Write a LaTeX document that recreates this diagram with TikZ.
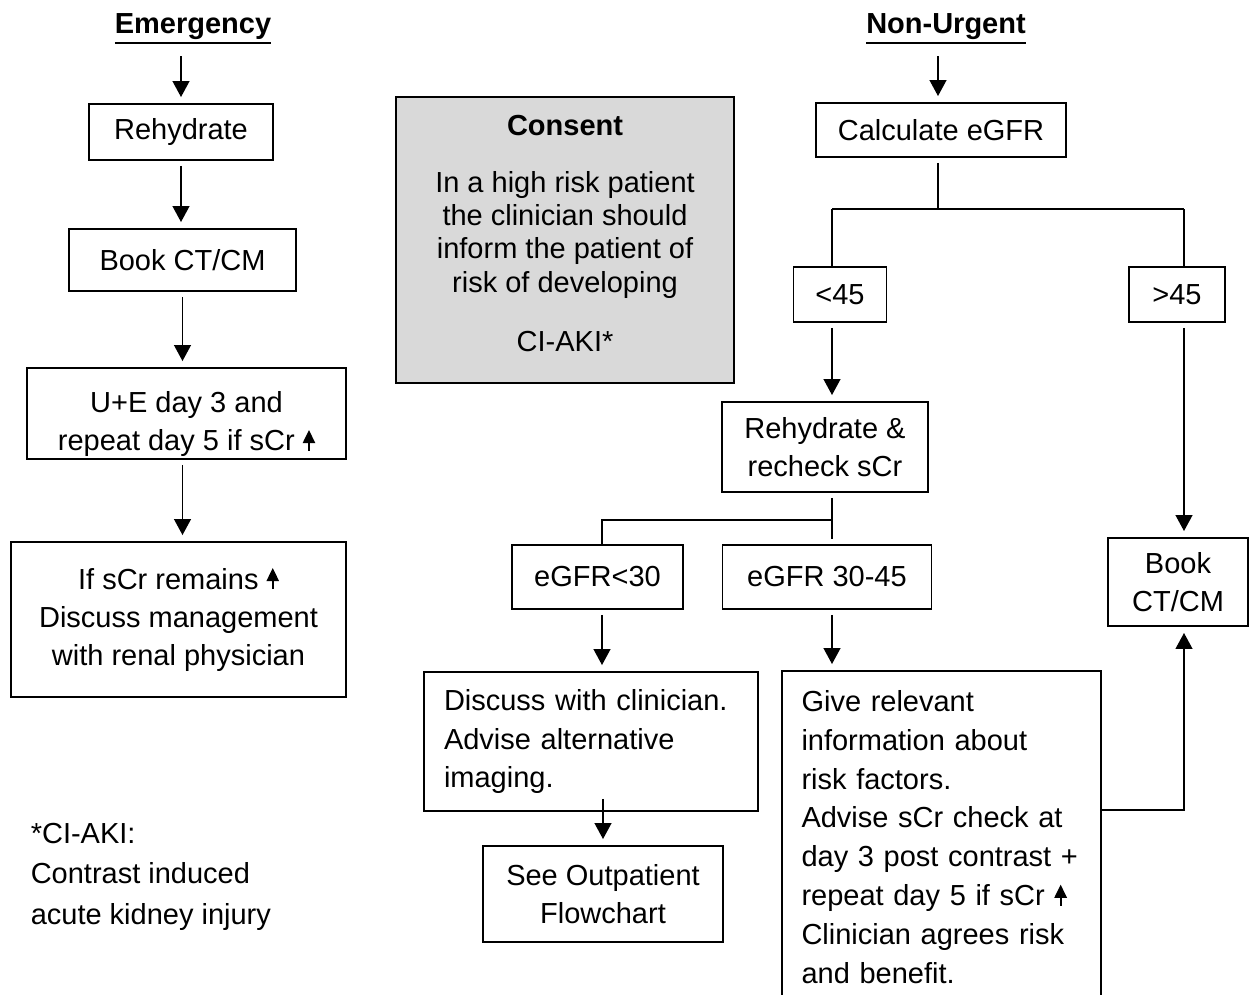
\documentclass[tikz,border=0pt]{standalone}
\usepackage{fontspec}
\setmainfont{Liberation Sans}
\usetikzlibrary{arrows.meta}

\definecolor{consentgrey}{RGB}{217,217,217}

% small "rising" arrow used inside the texts
\newcommand{\scrup}{\tikz[baseline=0pt]\draw[line width=1.1pt,-{Triangle[width=7pt,length=7.5pt]}] (0,0) -- (0,0.42cm);}
% bold underlined column heading
\newcommand{\heading}[1]{\vtop{\hbox{\bfseries #1}\kern1pt\hrule height 1.6pt}}

\tikzset{
	box/.style={draw,line width=1.1pt,align=center,inner sep=0pt},
	lbox/.style={box,align=left,inner xsep=0.4cm},
	arr/.style={->,shorten <=0.1cm,shorten >=0.12cm},
	ln/.style={-,shorten <=0.1cm}
}

\begin{document}
\begin{tikzpicture}[node font=\fontsize{16.5}{21.9}\selectfont,>={Triangle[width=9.5pt,length=9pt]},line width=0.9pt]
	\useasboundingbox (0,0) rectangle (25.08,-19.88);
	\clip (0,0) rectangle (25.08,-19.88);

	% headings
	\node[inner sep=0.12cm] (et) at (3.86,-0.58) {\heading{Emergency}};
	\node[inner sep=0.12cm] (nt) at (18.92,-0.58) {\heading{Non-Urgent}};

	% emergency column
	\node[box,minimum width=3.68cm,minimum height=1.12cm] (e1) at (3.62,-2.64) {Rehydrate};
	\node[box,minimum width=4.54cm,minimum height=1.24cm] (e2) at (3.65,-5.2) {Book CT/CM};
	\node[box,minimum width=6.38cm,minimum height=1.82cm] (e3) at (3.73,-8.27) {\rule{0pt}{0.85cm}U+E day 3 and\\repeat day 5 if sCr \scrup};
	\node[box,minimum width=6.7cm,minimum height=3.1cm] (e4) at (3.57,-12.39) {If sCr remains \scrup\\Discuss management\\with renal physician};

	% consent
	\node[box,fill=consentgrey,minimum width=6.76cm,minimum height=5.72cm,font=\fontsize{16.5}{19}\selectfont] (cons) at (11.3,-4.8)
		{\textbf{Consent}\\[0.47cm]In a high risk patient\\the clinician should\\inform the patient of\\risk of developing\\[0.51cm]CI-AKI*\rule[-0.28cm]{0pt}{0pt}};

	% non-urgent column
	\node[box,minimum width=5cm,minimum height=1.08cm] (n1) at (18.82,-2.6) {Calculate eGFR};
	\node[box,minimum width=1.86cm,minimum height=1.1cm] (n2) at (16.8,-5.89) {<45};
	\node[box,minimum width=1.92cm,minimum height=1.1cm] (n3) at (23.54,-5.89) {>45};
	\node[box,minimum width=4.12cm,minimum height=1.8cm] (n4) at (16.5,-8.94) {Rehydrate \&\\recheck sCr};
	\node[box,minimum width=3.42cm,minimum height=1.28cm] (n5) at (11.95,-11.54) {eGFR<30};
	\node[box,minimum width=4.18cm,minimum height=1.28cm] (n6) at (16.54,-11.54) {eGFR 30-45};
	\node[lbox,text width=5.88cm,minimum height=2.78cm] (n7) at (11.82,-14.83) {Discuss with clinician.\\Advise alternative\\imaging.};
	\node[box,minimum width=4.8cm,minimum height=1.92cm] (n8) at (12.06,-17.88) {See Outpatient\\Flowchart};
	\node[lbox,text width=5.6cm,inner xsep=0.39cm,minimum height=6.64cm,font=\fontsize{16.5}{22.1}\selectfont] (n9) at (18.83,-16.74)
		{Give relevant\\information about\\risk factors.\\Advise sCr check at\\day 3 post contrast +\\repeat day 5 if sCr \scrup\\Clinician agrees risk\\and benefit.};
	\node[box,minimum width=2.8cm,minimum height=1.76cm] (n10) at (23.56,-11.64) {Book\\CT/CM};

	% footnote
	\node[anchor=north west,align=left,inner sep=0pt,font=\fontsize{16.5}{23.3}\selectfont] (note) at (0.6,-16.44)
		{*CI-AKI:\\Contrast induced\\acute kidney injury};

	% junctions
	\coordinate (j1) at (18.76,-4.18);
	\coordinate (j2) at (16.64,-4.18);
	\coordinate (j3) at (23.68,-4.18);
	\coordinate (j4) at (16.64,-10.4);
	\coordinate (j5) at (12.04,-10.4);

	% emergency arrows
	\path[arr] (et.south -| e1) edge (e1.north);
	\path[arr] (e1.south) edge (e1.south |- e2.north);
	\path[arr] (e2.south) edge (e2.south |- e3.north);
	\path[arr] (e3.south -| e2) edge (e2.south |- e4.north);

	% non-urgent arrows
	\path[arr] (nt.south -| j1) edge (n1.north -| j1);
	\draw[ln] (n1.south -| j1) -- (j1);
	\draw (j2) -- (j3);
	\draw (j2) -- (n2.north -| j2);
	\draw (j3) -- (n3.north -| j3);
	\path[arr] (n2.south -| j2) edge (n4.north -| j2);
	\path[arr] (n3.south -| j3) edge (n10.north -| j3);
	\draw[ln,shorten >=0.1cm] (n4.south -| j4) -- (n6.north -| j4);
	\draw (j4) -- (j5) -- (n5.north -| j5);
	\path[arr] (n5.south -| j5) edge (n7.north -| j5);
	\path[arr] (n6.south -| j4) edge (n9.north -| j4);
	\path[arr,shorten <=0pt] ([yshift=0.26cm]n7.south -| n8) edge (n8.north);
	\draw[->,shorten >=0.12cm] (n9.east |- 0,-16.2) -| (n10.south -| j3);
\end{tikzpicture}
\end{document}
